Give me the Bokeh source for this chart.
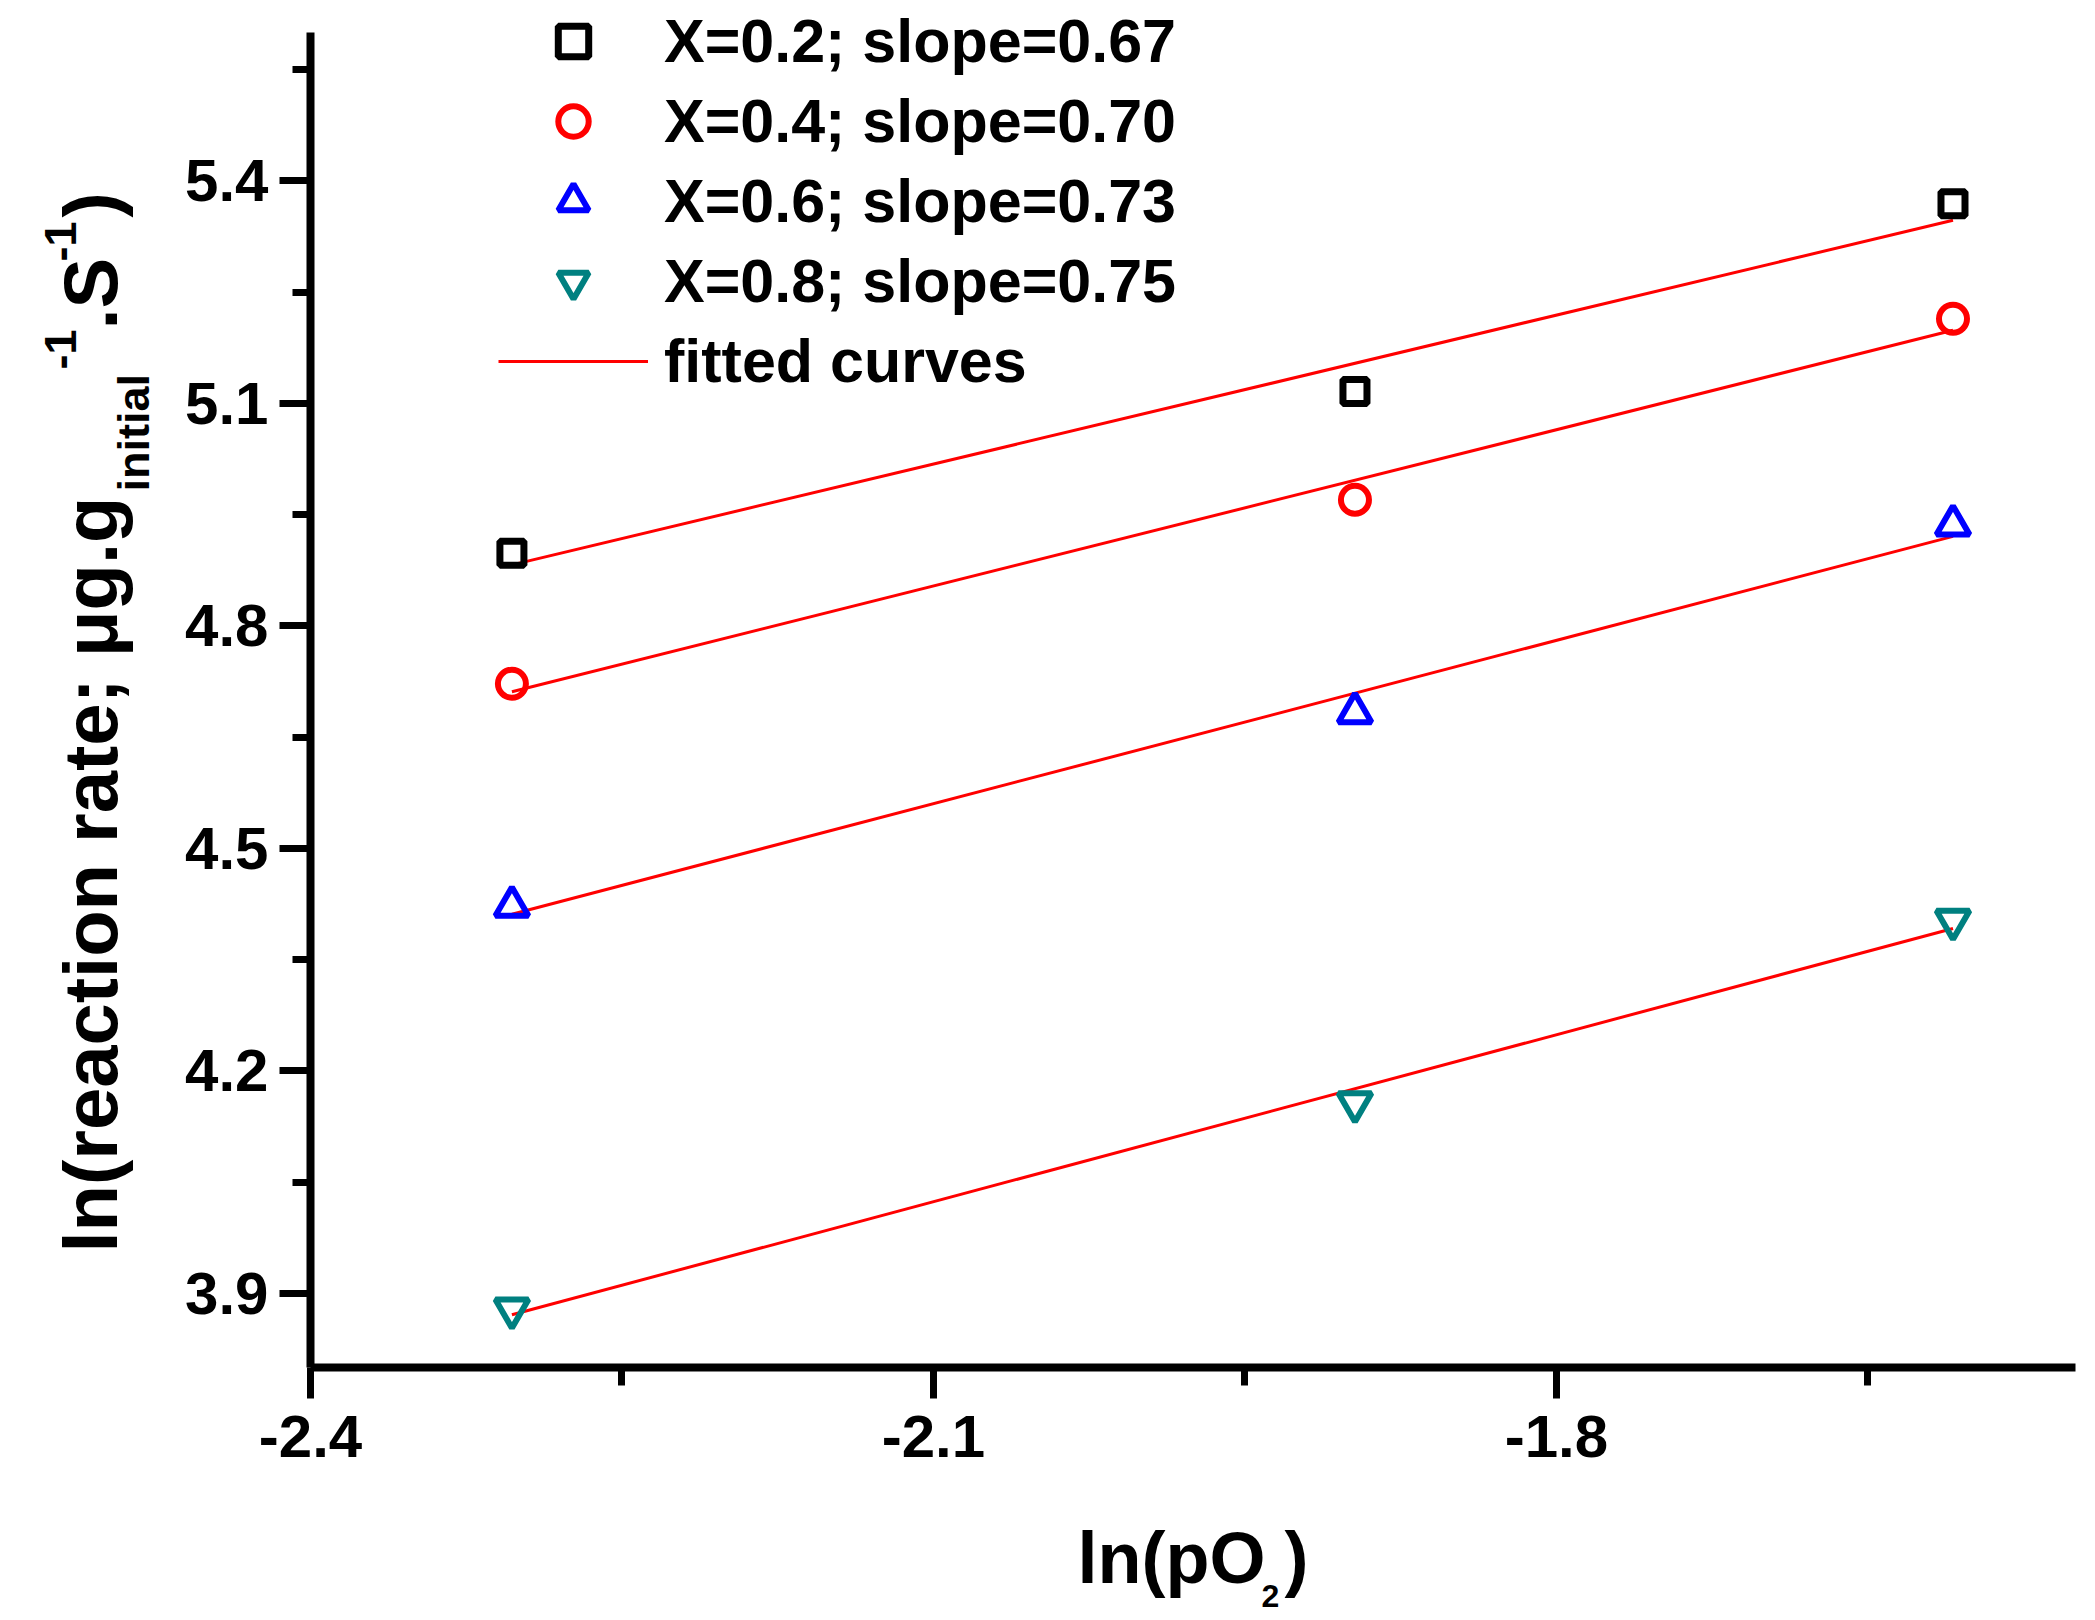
import numpy as np
from bokeh.plotting import figure
from bokeh.models import FixedTicker, Label, Legend, LegendItem, Range1d
from bokeh.embed import file_html
from bokeh.resources import INLINE

# ---------------- data ----------------
ln_po2 = [-2.303, -1.897, -1.609]
rate_x02 = [4.898, 5.116, 5.369]
rate_x04 = [4.722, 4.970, 5.214]
rate_x06 = [4.422, 4.683, 4.936]
rate_x08 = [3.879, 4.157, 4.403]
series_labels = ["X=0.2; slope=0.67", "X=0.4; slope=0.70",
                 "X=0.6; slope=0.73", "X=0.8; slope=0.75"]
fit_label = "fitted curves"
x_major = [-2.4, -2.1, -1.8]
x_minor = [-2.25, -1.95, -1.65]
y_major = [3.9, 4.2, 4.5, 4.8, 5.1, 5.4]
y_minor = [4.05, 4.35, 4.65, 4.95, 5.25, 5.55]
x_axis_span = (-2.4, -1.55)
y_axis_span = (3.8, 5.6)

FONT = "Liberation Sans"
W, H = 2090, 1615

# the frame fills the whole canvas; the axes sit at fixed locations inside it
p = figure(width=W, height=H, output_backend="svg", toolbar_location=None,
           x_range=Range1d(-2.54929, -1.54278), y_range=Range1d(3.46562, 5.64315),
           min_border_left=0, min_border_right=0, min_border_top=0,
           min_border_bottom=0)
p.outline_line_color = None
p.grid.visible = False
p.background_fill_color = "white"
p.border_fill_color = "white"

p.xaxis.fixed_location = y_axis_span[0]
p.yaxis.fixed_location = x_axis_span[0]
p.xaxis.bounds = x_axis_span
p.yaxis.bounds = y_axis_span
p.xaxis.ticker = FixedTicker(ticks=x_major, minor_ticks=x_minor)
p.yaxis.ticker = FixedTicker(ticks=y_major, minor_ticks=y_minor)
p.xaxis.major_label_overrides = {v: ("%.1f" % v) for v in x_major}
p.yaxis.major_label_overrides = {v: ("%.1f" % v) for v in y_major}
for ax in (p.xaxis, p.yaxis):
    ax.axis_line_width = 8
    ax.axis_line_color = "black"
    ax.major_tick_line_width = 7
    ax.minor_tick_line_width = 7
    ax.major_tick_line_color = "black"
    ax.minor_tick_line_color = "black"
    ax.major_tick_in = 0
    ax.minor_tick_in = 0
    ax.major_tick_out = 31
    ax.minor_tick_out = 18
    ax.major_label_text_font = FONT
    ax.major_label_text_font_style = "bold"
    ax.major_label_text_font_size = "60px"
    ax.major_label_text_color = "black"
p.xaxis.major_label_standoff = 17
p.yaxis.major_label_standoff = 11

# ---------------- series ----------------
series = [rate_x02, rate_x04, rate_x06, rate_x08]
markers = ["square", "circle", "triangle", "inverted_triangle"]
colors = ["black", "#FF0000", "#0000FF", "#008080"]
sizes = [24, 28, 33, 33]
widths = [7, 6, 6, 6]

fit_renderers = []
for ys in series:
    # least-squares fit line through each series
    k, b = np.polyfit(ln_po2, ys, 1)
    xf = [ln_po2[0], ln_po2[-1]]
    yf = [k * xv + b for xv in xf]
    fit_renderers.append(p.line(xf, yf, line_color="#FF0000", line_width=3))

scatter_renderers = []
for ys, m, c, s, w in zip(series, markers, colors, sizes, widths):
    scatter_renderers.append(p.scatter(ln_po2, ys, marker=m, size=s, fill_color=None,
                                       line_color=c, line_width=w))

items = [LegendItem(label=lab, renderers=[r]) for lab, r in zip(series_labels, scatter_renderers)]
items.append(LegendItem(label=fit_label, renderers=[fit_renderers[0]]))
legend = Legend(items=items, location=(498, 1216), glyph_width=150, glyph_height=76,
                spacing=4, padding=0, margin=0, label_standoff=16,
                label_text_font=FONT, label_text_font_style="bold",
                label_text_font_size="61px", label_text_color="black",
                border_line_color=None, background_fill_alpha=0)
p.add_layout(legend)

# ---------------- axis titles (with sub/superscripts) ----------------
def lab(text, sx, sy, size, angle=0.0):
    p.add_layout(Label(x=sx, y=sy, x_units="screen", y_units="screen", text=text,
                       angle=angle, text_align="left", text_baseline="alphabetic",
                       text_font=FONT, text_font_style="bold",
                       text_font_size=size, text_color="black"))

A = np.pi / 2
lab("ln(reaction rate; \u03bcg.g", 90, 363, "76px", A)
lab("initial", 133, 1124, "45px", A)
lab("-1", 60, 1246, "45px", A)
lab(".S", 90, 1286, "76px", A)
lab("-1", 60, 1354, "45px", A)
lab(")", 90, 1398, "76px", A)

lab("ln(pO", 1077, 58, "72px")
lab("2", 1261, 20, "32px")
lab(")", 1284, 58, "72px")

open("out.html", "w").write(file_html(p, INLINE))
